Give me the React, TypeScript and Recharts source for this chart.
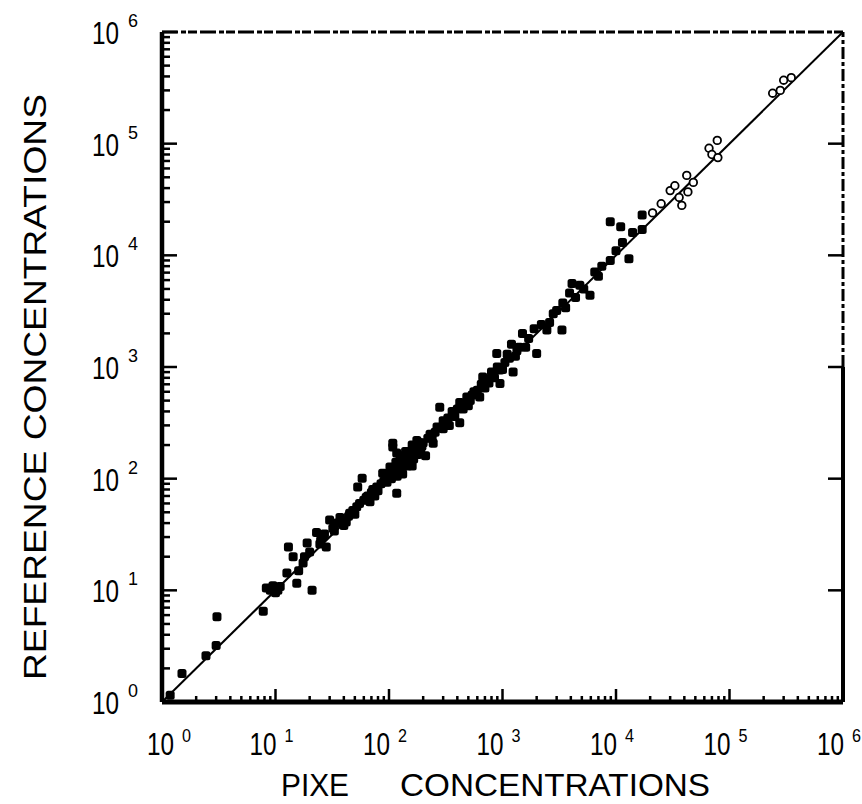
import { ScatterChart, Scatter, XAxis, YAxis, ReferenceLine } from "recharts";

// axis ticks
const decades = [1, 10, 100, 1000, 10000, 100000, 1000000];
const exponents = ["0", "1", "2", "3", "4", "5", "6"];
const minorSteps = [2, 3, 4, 5, 6, 7, 8, 9];

// PIXE vs reference concentrations (filled markers)
const solidPoints: [number, number][] = [
  [1.18, 1.15], [1.5, 1.8], [2.44, 2.6], [3.0, 3.2], [3.05, 5.8], [7.8, 6.5],
  [8.3, 10.5], [9, 10], [10, 9.5], [9.5, 11], [10.5, 10], [11, 10.8],
  [12.6, 14.3], [15.4, 11.6], [21, 10], [13, 24.5], [14.3, 20], [17.5, 17.6],
  [16, 15], [19, 26.5], [18, 20], [20, 22], [23, 33], [24.6, 26], [28, 24.5],
  [26, 30], [25, 28], [27, 32], [30, 42.6], [32, 36], [33, 34], [35, 40],
  [37, 45], [38, 42], [42, 41], [44, 46], [45, 49], [40, 38], [48, 52],
  [50, 48], [52, 56], [55, 60], [58, 101], [53, 84], [63, 68], [60, 64],
  [65, 70], [68, 62], [70, 75], [72, 80], [78, 84], [75, 70], [80, 78],
  [85, 90], [88, 112], [90, 95], [95, 100], [96, 93], [100, 110], [102, 127],
  [105, 100], [108, 192], [108, 208], [110, 115], [112, 125], [115, 140],
  [117, 170], [117, 74], [118, 105], [120, 130], [125, 160], [125, 135],
  [130, 120], [132, 110], [135, 145], [138, 160], [140, 175], [145, 130],
  [150, 150], [155, 170], [160, 130], [160, 200], [165, 150], [170, 190],
  [176, 220], [180, 165], [185, 210], [190, 180], [195, 195], [200, 210],
  [210, 160], [220, 230], [240, 230], [245, 208], [230, 250], [255, 260],
  [265, 290], [280, 437], [300, 280], [300, 330], [330, 350], [340, 300],
  [360, 400], [380, 360], [400, 420], [420, 316], [420, 480], [450, 420],
  [460, 470], [485, 540], [500, 450], [520, 500], [540, 560], [560, 600],
  [600, 620], [630, 540], [650, 700], [670, 815], [700, 650], [720, 780],
  [760, 720], [800, 900], [850, 800], [890, 1320], [900, 1000], [950, 940],
  [950, 710], [1000, 950], [1050, 1100], [1100, 1300], [1150, 1200],
  [1240, 900], [1300, 1250], [1340, 1400], [1200, 1600], [1400, 1500],
  [1600, 1500], [1500, 2000], [1700, 1800], [1900, 2200], [2000, 1320],
  [2200, 2400], [2460, 2140], [2600, 2500], [2800, 3000], [3000, 3200],
  [3340, 2140], [3400, 3750], [3600, 3400], [3900, 4600], [4100, 5600],
  [4400, 4200], [4800, 5400], [5200, 5000], [5900, 4400], [6500, 7100],
  [7000, 6500], [7500, 8000], [8900, 9000], [8900, 20000], [10000, 11000],
  [11000, 18000], [11400, 13000], [13000, 9300], [14000, 16000],
  [17000, 23000], [17000, 17000],
];

// open markers at the high end
const openPoints: [number, number][] = [
  [21000, 24000], [25000, 29000], [30000, 38000], [33000, 42000],
  [36000, 33000], [38000, 28000], [42000, 52000], [43000, 37000],
  [48000, 45000], [66000, 91000], [70000, 80000], [78000, 107000],
  [79000, 75000], [240000, 283000], [280000, 300000], [300000, 370000],
  [350000, 390000],
];

const allTicks = [
  ...decades,
  ...decades.slice(0, -1).flatMap((d) => minorSteps.map((m) => m * d)),
].sort((a, b) => a - b);

const solidData = solidPoints.map(([x, y]) => ({ x, y }));
const openData = openPoints.map(([x, y]) => ({ x, y }));

const lo = decades[0];
const hi = decades[decades.length - 1];

const font = "'Liberation Sans', Arial, 'DejaVu Sans', sans-serif";

function BottomTick({ x, y, payload }: any) {
  const i = decades.indexOf(payload.value);
  const major = i >= 0;
  const shift = i === 0 ? 11 : 0;
  return (
    <g>
      <line x1={x} x2={x} y1={y} y2={y - (major ? 13 : 6)} stroke="#000" strokeWidth={2.5} />
      {major && (
        <g fontFamily={font} fill="#000">
          <text x={x + 1 + shift} y={y + 53} textAnchor="end" fontSize={31} textLength={27} lengthAdjust="spacingAndGlyphs">
            10
          </text>
          <text x={x + 9 + shift} y={y + 40} fontSize={19} textLength={9} lengthAdjust="spacingAndGlyphs">
            {exponents[i]}
          </text>
        </g>
      )}
    </g>
  );
}

function LeftTick({ x, y, payload }: any) {
  const i = decades.indexOf(payload.value);
  const major = i >= 0;
  return (
    <g>
      <line x1={x} x2={x + (major ? 15 : 8)} y1={y} y2={y} stroke="#000" strokeWidth={2.5} />
      {major && (
        <g fontFamily={font} fill="#000">
          <text x={x - 43} y={y + 12} textAnchor="end" fontSize={31} textLength={27} lengthAdjust="spacingAndGlyphs">
            10
          </text>
          <text x={x - 34} y={y - 5} fontSize={19} textLength={10} lengthAdjust="spacingAndGlyphs">
            {exponents[i]}
          </text>
        </g>
      )}
    </g>
  );
}

function TopTick({ x, y, payload }: any) {
  if (payload.value === lo || payload.value === hi) return <g />;
  return <line x1={x} x2={x} y1={y + 8} y2={y + 13} stroke="#000" strokeWidth={3} />;
}

function RightTick({ x, y, payload }: any) {
  if (payload.value === lo || payload.value === hi) return <g />;
  return <line x1={x} x2={x - 15} y1={y} y2={y} stroke="#000" strokeWidth={2.5} />;
}

function SolidDot({ cx, cy }: any) {
  return <rect x={cx - 4.5} y={cy - 4.5} width={9} height={9} rx={2.5} fill="#000" />;
}

function OpenDot({ cx, cy }: any) {
  return <circle cx={cx} cy={cy} r={3.8} fill="#fff" stroke="#000" strokeWidth={1.8} />;
}

export default function App() {
  return (
    <div style={{ position: "absolute", left: 0, top: 0, width: 862, height: 804, background: "#fff" }}>
      <ScatterChart width={862} height={804} margin={{ top: 31, right: 18, bottom: 101, left: 161 }}>
        <XAxis
          dataKey="x"
          type="number"
          scale="log"
          domain={[lo, hi]}
          allowDataOverflow
          ticks={allTicks}
          interval={0}
          tick={BottomTick}
          tickLine={false}
          tickSize={0}
          tickMargin={0}
          height={1}
          axisLine={{ stroke: "#000", strokeWidth: 5 }}
        />
        <XAxis
          xAxisId="top"
          orientation="top"
          type="number"
          scale="log"
          domain={[lo, hi]}
          allowDataOverflow
          ticks={decades}
          interval={0}
          tick={TopTick}
          tickLine={false}
          tickSize={0}
          tickMargin={0}
          height={1}
          axisLine={{ stroke: "#000", strokeWidth: 3, strokeDasharray: "16 3 5 2 9 3" }}
        />
        <YAxis
          dataKey="y"
          type="number"
          scale="log"
          domain={[lo, hi]}
          allowDataOverflow
          ticks={allTicks}
          interval={0}
          tick={LeftTick}
          tickLine={false}
          tickSize={0}
          tickMargin={0}
          width={1}
          axisLine={{ stroke: "#000", strokeWidth: 4.5 }}
        />
        <YAxis
          yAxisId="right"
          orientation="right"
          type="number"
          scale="log"
          domain={[lo, hi]}
          allowDataOverflow
          ticks={decades}
          interval={0}
          tick={RightTick}
          tickLine={false}
          tickSize={0}
          tickMargin={0}
          width={1}
          axisLine={false}
        />
        <ReferenceLine segment={[{ x: hi, y: lo }, { x: hi, y: 1000 }]} stroke="#000" strokeWidth={4} />
        <ReferenceLine
          segment={[{ x: hi, y: 1000 }, { x: hi, y: hi }]}
          stroke="#000"
          strokeWidth={3}
          strokeDasharray="12 3 4 3"
        />
        <ReferenceLine segment={[{ x: lo, y: lo }, { x: hi, y: hi }]} stroke="#000" strokeWidth={2} />
        <Scatter data={solidData} shape={SolidDot} isAnimationActive={false} />
        <Scatter data={openData} shape={OpenDot} isAnimationActive={false} />
      </ScatterChart>
      <svg width={862} height={804} style={{ position: "absolute", left: 0, top: 0, pointerEvents: "none" }}>
        <g fontFamily={font} fill="#000" fontSize={31}>
          <text x={281} y={796} textLength={68} lengthAdjust="spacingAndGlyphs">
            PIXE
          </text>
          <text x={400} y={796} textLength={310} lengthAdjust="spacingAndGlyphs">
            CONCENTRATIONS
          </text>
          <text
            transform="translate(46 387) rotate(-90)"
            textAnchor="middle"
            textLength={586}
            lengthAdjust="spacingAndGlyphs"
          >
            REFERENCE  CONCENTRATIONS
          </text>
        </g>
      </svg>
    </div>
  );
}
